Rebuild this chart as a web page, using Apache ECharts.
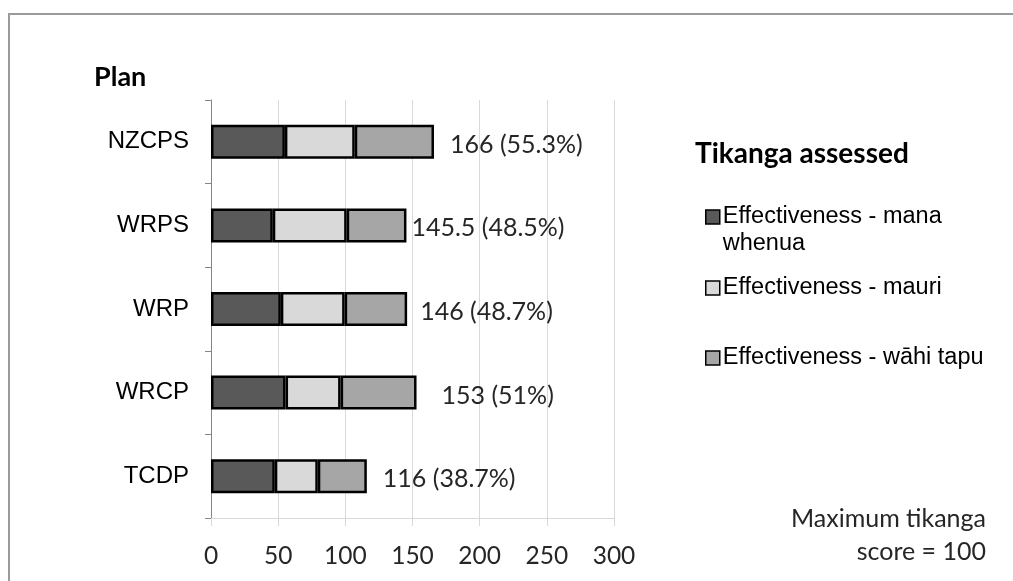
<!DOCTYPE html>
<html><head><meta charset="utf-8">
<script src="https://cdn.jsdelivr.net/npm/echarts@6/dist/echarts.min.js"></script>
<style>html,body{margin:0;padding:0;background:#fff}#c{width:1013px;height:581px}</style>
</head><body><div id="c"></div>
<script>
// ---- data ----
const categories = ['NZCPS', 'WRPS', 'WRP', 'WRCP', 'TCDP'];
const manaWhenua = [55, 46, 52, 55.5, 47.5];
const mauri = [52, 55, 47.5, 41, 32];
const wahiTapu = [59, 44.5, 46.5, 56.5, 36.5];
const totalLabels = ['166 (55.3%)', '145.5 (48.5%)', '146 (48.7%)', '153 (51%)', '116 (38.7%)'];
const seriesNames = ['Effectiveness - mana whenua', 'Effectiveness - mauri', 'Effectiveness - wāhi tapu'];
const xMin = 0, xMax = 300, xStep = 50;

// ---- styling ----
const colors = ['#595959', '#d9d9d9', '#a6a6a6'];
const labelGaps = [16, 5, 13, 25, 16];
const legendTops = [175.5, 273.5, 343.5];

const chart = echarts.init(document.getElementById('c'), null, {renderer: 'canvas'});

const seriesData = [manaWhenua, mauri, wahiTapu];
const series = seriesData.map((arr, k) => {
  const s = {
    type: 'bar',
    name: seriesNames[k],
    stack: 'total',
    barWidth: 34,
    itemStyle: {color: colors[k], borderColor: '#000', borderWidth: 2.5},
    data: arr.map((v, i) => k === 2 ? {value: v, label: {distance: labelGaps[i]}} : v)
  };
  if (k === 2) {
    s.label = {
      show: true, position: 'right', offset: [0, 3],
      formatter: p => totalLabels[p.dataIndex],
      fontFamily: 'Lato', fontSize: 25, color: '#262626'
    };
  }
  return s;
});

const legends = seriesNames.map((n, k) => ({
  data: [n],
  orient: 'vertical',
  left: 705,
  top: legendTops[k],
  padding: 0,
  icon: 'rect',
  itemWidth: 14,
  itemHeight: 14,
  itemGap: 0,
  selectedMode: false,
  itemStyle: {borderColor: '#000', borderWidth: 1.5},
  formatter: name => k === 0 ? '\n' + name.replace(' whenua', '\nwhenua') : name,
  textStyle: {fontFamily: 'Arial', fontSize: 23.5, lineHeight: 27, color: '#000', padding: [2, 0, 0, -2]}
}));

chart.setOption({
  animation: false,
  backgroundColor: '#fff',
  grid: {left: 211, top: 100, width: 403, height: 418, containLabel: false, outerBoundsMode: 'none'},
  xAxis: {
    type: 'value', min: xMin, max: xMax, interval: xStep,
    axisLine: {show: true, lineStyle: {color: '#d9d9d9', width: 1}},
    axisTick: {show: true, length: 8, lineStyle: {color: '#d9d9d9'}},
    splitLine: {show: true, lineStyle: {color: '#d9d9d9', width: 1}},
    axisLabel: {fontFamily: 'Lato', fontSize: 24.5, color: '#262626', margin: 26}
  },
  yAxis: {
    type: 'category', data: categories, inverse: true,
    axisLine: {show: true, lineStyle: {color: '#868686', width: 1}},
    axisTick: {show: true, length: 6, lineStyle: {color: '#868686'}},
    splitLine: {show: false},
    axisLabel: {fontFamily: 'Arial', fontSize: 24, color: '#000', margin: 22, lineHeight: 30, verticalAlign: 'middle', padding: [6, 0, 0, 0]}
  },
  legend: legends,
  graphic: [
    {type: 'rect', shape: {x: 9, y: 14, width: 1200, height: 1000}, style: {fill: 'none', stroke: '#9a9a9a', lineWidth: 2}, silent: true},
    {type: 'text', x: 94, y: 77, style: {text: 'Plan', font: 'bold 27px Lato', fill: '#000', verticalAlign: 'middle'}},
    {type: 'text', x: 695, y: 154, style: {text: 'Tikanga assessed', font: 'bold 28px Lato', fill: '#000', verticalAlign: 'middle'}},
    {type: 'text', x: 986, y: 535, style: {text: 'Maximum tikanga\nscore = 100', font: '25px Lato', lineHeight: 33, fill: '#262626', align: 'right', verticalAlign: 'middle'}}
  ],
  series: series
});
</script>
</body></html>
